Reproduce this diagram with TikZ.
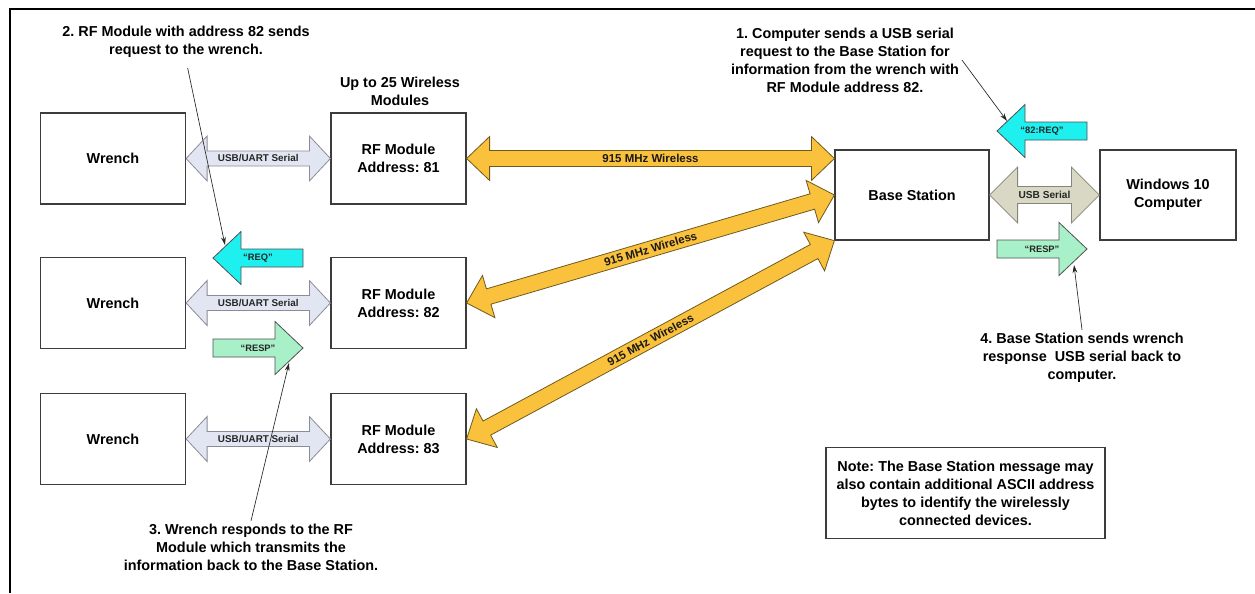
\documentclass[tikz,border=0pt]{standalone}
\usepackage{fontspec}
\setmainfont{Liberation Sans}
\usetikzlibrary{calc, arrows.meta}
\frenchspacing

\definecolor{boxline}{HTML}{3C3C3C}
\definecolor{uartfill}{HTML}{E2E6F2}
\definecolor{uartline}{HTML}{8C8C96}
\definecolor{usbfill}{HTML}{D8D8C4}
\definecolor{usbline}{HTML}{85857A}
\definecolor{radiofill}{HTML}{FAC13C}
\definecolor{radioline}{HTML}{6E5A1E}
\definecolor{reqfill}{HTML}{1EEFEF}
\definecolor{respfill}{HTML}{A8F0C8}
\definecolor{msgline}{HTML}{505050}

\newcommand\bigtext{\fontsize{10.8}{13.5}\selectfont\bfseries}

% angle and length (in px) from #1 to #2
\newcommand\arrgeom[2]{%
	\path let \p1=(#1), \p2=(#2) in \pgfextra{%
		\pgfmathsetmacro\arrang{atan2(\y2-\y1,\x2-\x1)}\global\let\arrang\arrang
		\pgfmathsetmacro\arrlen{veclen(\x2-\x1,\y2-\y1)/0.75}\global\let\arrlen\arrlen};}

% two headed block arrow: style, from, to, label
\newcommand\dblarrow[4]{%
	\arrgeom{#2}{#3}
	\begin{scope}[shift={(#2)}, rotate=\arrang, #1]
		\draw[arrbody] (0,0) -- (\arrtip,\arrhead) -- (\arrtip,\arrshaft)
			-- (\arrlen-\arrtip,\arrshaft) -- (\arrlen-\arrtip,\arrhead) -- (\arrlen,0)
			-- (\arrlen-\arrtip,-\arrhead) -- (\arrlen-\arrtip,-\arrshaft)
			-- (\arrtip,-\arrshaft) -- (\arrtip,-\arrhead) -- cycle;
		\node[arrlabel, rotate=\arrang] at (\arrlen/2,0) {#4};
	\end{scope}}

% one headed block arrow: style, tail, tip, label
\newcommand\sglarrow[4]{%
	\arrgeom{#2}{#3}
	\begin{scope}[shift={(#2)}, rotate=\arrang, #1]
		\draw[arrbody] (0,-\arrshaft) -- (\arrlen-\arrtip,-\arrshaft) -- (\arrlen-\arrtip,-\arrhead)
			-- (\arrlen,0) -- (\arrlen-\arrtip,\arrhead) -- (\arrlen-\arrtip,\arrshaft)
			-- (0,\arrshaft) -- cycle;
		\node[arrlabel] at (\arrlen/2,0) {#4};
	\end{scope}}

\begin{document}
\begin{tikzpicture}[x=0.75pt, y=-0.75pt,
	unit/.style={draw=boxline, line width=0.9pt, fill=white, inner sep=0pt, align=center, font=\bigtext},
	wrench/.style={unit, minimum width=108.75pt, minimum height=68.25pt},
	radio/.style={unit, minimum width=101.25pt, minimum height=68.25pt},
	hub/.style={unit, minimum width=115.5pt, minimum height=67.5pt},
	host/.style={unit, minimum width=102pt, minimum height=67.5pt},
	remark/.style={align=center, font=\bigtext, inner sep=2pt},
	callout/.style={draw=black!85, line width=0.5pt, -{Stealth[length=6pt, width=3.6pt]}},
	arrshaft/.store in=\arrshaft, arrhead/.store in=\arrhead, arrtip/.store in=\arrtip,
	arrbody/.style={draw, fill=white}, arrlabel/.style={},
	uart/.style={arrshaft=7.5, arrhead=22.5, arrtip=21,
		arrbody/.style={draw=uartline, fill=uartfill, line width=0.6pt},
		arrlabel/.style={font=\fontsize{7.4}{8}\selectfont\bfseries, text=black!85}},
	usb/.style={arrshaft=8.5, arrhead=28, arrtip=28,
		arrbody/.style={draw=usbline, fill=usbfill, line width=0.6pt},
		arrlabel/.style={font=\fontsize{7.6}{8}\selectfont\bfseries, text=black!85}},
	wireless/.style={arrshaft=8, arrhead=22, arrtip=23,
		arrbody/.style={draw=radioline, fill=radiofill, line width=0.6pt},
		arrlabel/.style={font=\fontsize{8.6}{9}\selectfont\bfseries, text=black!90}},
	req/.style={arrshaft=9, arrhead=26.5, arrtip=28,
		arrbody/.style={draw=msgline, fill=reqfill, line width=0.6pt},
		arrlabel/.style={font=\fontsize{7}{8}\selectfont\bfseries, text=black!85}},
	resp/.style={req, arrbody/.style={draw=msgline, fill=respfill, line width=0.6pt}}]

	\useasboundingbox (0,0) rectangle (1255,593);
	\draw[line width=1.9pt] (10,593) -- (10,9) -- (1255,9);

	\node[wrench] (wr1) at (113,158.5) {Wrench};
	\node[wrench] (wr2) at (113,303) {Wrench};
	\node[wrench] (wr3) at (113,439) {Wrench};
	\node[radio] (rf1) at (398.5,158.5) {RF Module\\Address: 81};
	\node[radio] (rf2) at (398.5,303) {RF Module\\Address: 82};
	\node[radio] (rf3) at (398.5,439) {RF Module\\Address: 83};
	\node[hub] (base) at (912,195) {Base Station};
	\node[host] (pc) at (1168,195) {Windows 10\\Computer};
	\node[unit, minimum width=209.25pt, minimum height=68.25pt] (note) at (965.5,493)
		{Note: The Base Station message may\\also contain additional ASCII address\\bytes to identify the wirelessly\\connected devices.};

	\node[remark] (step1) at (845,60) {1. Computer sends a USB serial\\request to the Base Station for\\information from the wrench with\\RF Module address 82.};
	\node[remark] (step2) at (186,41.5) {2. RF Module with address 82 sends\\request to the wrench.};
	\node[remark] (step3) at (251,547) {3. Wrench responds to the RF\\Module which transmits the\\information back to the Base Station.};
	\node[remark] (step4) at (1082,357.5) {4. Base Station sends wrench\\response\ \ USB serial back to\\computer.};
	\node[remark] (pool) at (400,91) {Up to 25 Wireless\\Modules};

	\dblarrow{uart}{wr1.east}{rf1.west}{USB/UART Serial}
	\dblarrow{uart}{wr2.east}{rf2.west}{USB/UART Serial}
	\dblarrow{uart}{wr3.east}{rf3.west}{USB/UART Serial}
	\dblarrow{wireless}{rf1.east}{rf1.east -| base.west}{915 MHz Wireless}
	\dblarrow{wireless}{rf2.east}{base.west}{915 MHz Wireless}
	\dblarrow{wireless}{rf3.east}{base.south west}{915 MHz Wireless}
	\dblarrow{usb}{base.east}{pc.west}{USB Serial}

	\sglarrow{req}{303,258}{213,258}{``REQ''}
	\sglarrow{resp}{213,348}{303,348}{``RESP''}
	\sglarrow{req}{1087,131}{997,131}{``82:REQ''}
	\sglarrow{resp}{997,249}{1087,249}{``RESP''}

	\coordinate (reqhit) at (225,245);
	\coordinate (resphit) at (289,363);
	\coordinate (req82hit) at (1007,121);
	\coordinate (resp82hit) at (1074,265);

	\draw[callout] (step1.east) -- (req82hit);
	\draw[callout, shorten <=6pt] (step2.south) -- (reqhit);
	\draw[callout] (step3.north) -- (resphit);
	\draw[callout] (step4.north) -- (resp82hit);
\end{tikzpicture}
\end{document}
